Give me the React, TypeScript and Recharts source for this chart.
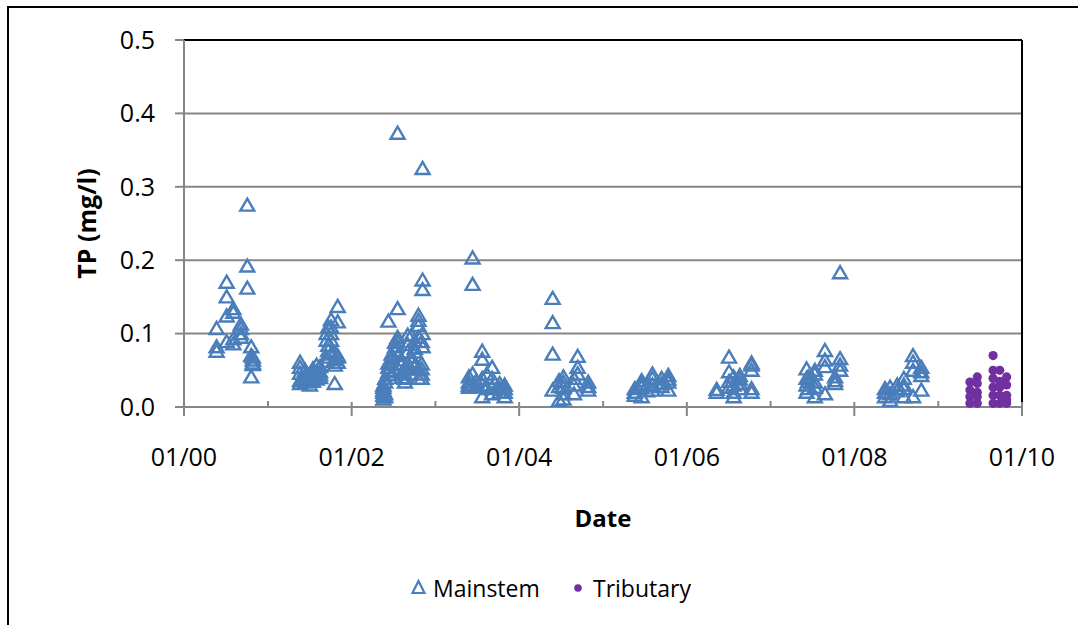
import React from "react";
import { ScatterChart, Scatter, XAxis, YAxis, CartesianGrid, ReferenceLine } from "recharts";

const AXIS = "#868686";
const BLUE = "#4a7ebb";
const PURPLE = "#7030a0";
const FONT = "'Open Sans', sans-serif";

type Sample = [string, number[]];

// sampling date -> TP values (mg/l)
const mainstem2000: Sample[] = [
  ["2000-05-22", [0.107, 0.082, 0.076]],
  ["2000-07-05", [0.17, 0.15, 0.124, 0.089]],
  ["2000-08-03", [0.134, 0.129, 0.093, 0.086]],
  ["2000-09-05", [0.113, 0.107, 0.1, 0.095]],
  ["2000-10-03", [0.275, 0.192, 0.162]],
  ["2000-10-20", [0.082, 0.07, 0.041]],
  ["2000-10-27", [0.068, 0.064, 0.06, 0.058]],
];

const mainstem2001: Sample[] = [
  ["2001-05-21", [0.061, 0.054, 0.046, 0.036, 0.032]],
  ["2001-06-12", [0.05, 0.042, 0.038, 0.034]],
  ["2001-07-03", [0.045, 0.04, 0.036, 0.03]],
  ["2001-07-16", [0.052, 0.046, 0.04, 0.035]],
  ["2001-08-01", [0.057, 0.048, 0.041, 0.038]],
  ["2001-08-16", [0.055, 0.048, 0.044, 0.04]],
  ["2001-09-14", [0.1, 0.091, 0.068, 0.062]],
  ["2001-09-21", [0.109, 0.084, 0.077]],
  ["2001-10-03", [0.119, 0.109, 0.1, 0.091, 0.072]],
  ["2001-10-19", [0.074, 0.065, 0.057, 0.032]],
  ["2001-11-01", [0.137, 0.116, 0.07, 0.068, 0.061]],
];

const mainstem2002: Sample[] = [
  ["2002-05-19", [0.03, 0.027, 0.023, 0.02, 0.016, 0.011]],
  ["2002-05-27", [0.039, 0.034, 0.018, 0.014]],
  ["2002-06-10", [0.117, 0.06, 0.054, 0.048]],
  ["2002-06-24", [0.072, 0.066, 0.058, 0.044]],
  ["2002-07-09", [0.088, 0.082, 0.077, 0.05]],
  ["2002-07-20", [0.373, 0.134, 0.095, 0.089, 0.07]],
  ["2002-08-07", [0.064, 0.058, 0.046, 0.04]],
  ["2002-08-21", [0.052, 0.045, 0.039, 0.034]],
  ["2002-09-02", [0.098, 0.085, 0.075, 0.06, 0.052]],
  ["2002-09-19", [0.098, 0.068, 0.061]],
  ["2002-10-03", [0.09, 0.08, 0.075, 0.056]],
  ["2002-10-19", [0.125, 0.118, 0.111, 0.095, 0.052, 0.039]],
  ["2002-11-02", [0.089, 0.059, 0.052, 0.045, 0.039]],
  ["2002-11-06", [0.325, 0.173, 0.16, 0.1, 0.082]],
];

const mainstem2003: Sample[] = [
  ["2003-05-27", [0.041, 0.034, 0.03, 0.027]],
  ["2003-06-12", [0.203, 0.167, 0.045, 0.03]],
  ["2003-06-27", [0.035, 0.028]],
  ["2003-07-24", [0.076, 0.065, 0.039, 0.03, 0.014]],
  ["2003-08-13", [0.045, 0.025]],
  ["2003-09-05", [0.054, 0.039, 0.027, 0.018]],
  ["2003-10-08", [0.032, 0.025, 0.02]],
  ["2003-10-30", [0.03, 0.025, 0.02, 0.014]],
];

const mainstem2004: Sample[] = [
  ["2004-05-26", [0.148, 0.115, 0.072, 0.023]],
  ["2004-06-23", [0.036, 0.028, 0.009]],
  ["2004-07-12", [0.041, 0.034, 0.027, 0.018, 0.011]],
  ["2004-08-27", [0.039, 0.03, 0.018]],
  ["2004-09-12", [0.069, 0.054, 0.045]],
  ["2004-10-28", [0.034, 0.028, 0.023]],
];

const mainstem2005: Sample[] = [
  ["2005-05-19", [0.025, 0.02, 0.016]],
  ["2005-06-18", [0.036, 0.032, 0.027, 0.014]],
  ["2005-07-11", [0.03, 0.022]],
  ["2005-08-04", [0.045, 0.039, 0.03, 0.023]],
  ["2005-09-13", [0.039, 0.032, 0.028]],
  ["2005-10-12", [0.043, 0.038, 0.034, 0.023]],
];

const mainstem2006: Sample[] = [
  ["2006-05-11", [0.024, 0.02]],
  ["2006-07-04", [0.068, 0.048, 0.035, 0.027]],
  ["2006-07-24", [0.041, 0.03, 0.02, 0.014]],
  ["2006-08-20", [0.043, 0.038, 0.032, 0.025]],
  ["2006-10-10", [0.06, 0.057, 0.05, 0.025, 0.02]],
];

const mainstem2007: Sample[] = [
  ["2007-06-07", [0.052, 0.039, 0.03, 0.02]],
  ["2007-06-14", [0.041, 0.035, 0.025]],
  ["2007-07-13", [0.05, 0.045, 0.034, 0.027, 0.014]],
  ["2007-08-26", [0.077, 0.064, 0.055, 0.018]],
  ["2007-10-09", [0.041, 0.036, 0.032]],
  ["2007-10-31", [0.183, 0.066, 0.057, 0.05]],
];

const mainstem2008: Sample[] = [
  ["2008-05-14", [0.025, 0.02, 0.014]],
  ["2008-06-05", [0.027, 0.018, 0.009]],
  ["2008-07-06", [0.03, 0.022]],
  ["2008-08-04", [0.039, 0.03, 0.025, 0.014]],
  ["2008-09-13", [0.07, 0.061, 0.05, 0.014]],
  ["2008-10-19", [0.054, 0.048, 0.043, 0.023]],
];

const tributary2009: Sample[] = [
  ["2009-05-19", [0.034, 0.023, 0.014, 0.005]],
  ["2009-06-20", [0.041, 0.032, 0.02, 0.014, 0.005]],
  ["2009-08-28", [0.07, 0.05, 0.039, 0.027, 0.016, 0.005]],
  ["2009-09-26", [0.05, 0.035, 0.027, 0.016, 0.005]],
  ["2009-10-26", [0.041, 0.03, 0.016, 0.01, 0.005]],
];

const tickYears = [2000, 2001, 2002, 2003, 2004, 2005, 2006, 2007, 2008, 2009, 2010];
const yTicks = [0, 0.1, 0.2, 0.3, 0.4, 0.5];

const toPoints = (groups: Sample[][]) =>
  groups.flatMap(g => g.flatMap(([d, vals]) => vals.map(v => ({ x: Date.parse(d), y: v }))));

const mainstem = toPoints([
  mainstem2000, mainstem2001, mainstem2002, mainstem2003, mainstem2004,
  mainstem2005, mainstem2006, mainstem2007, mainstem2008,
]);
const tributary = toPoints([tributary2009]);

const xTicks = tickYears.map(y => Date.UTC(y, 0, 1));
const xDomain = [xTicks[0], xTicks[xTicks.length - 1]];

function DateTick(props: any) {
  const { x, y, payload } = props;
  const yr = new Date(payload.value).getUTCFullYear();
  const major = yr % 2 === 0;
  return (
    <g>
      {major ? (
        <line x1={x} x2={x} y1={y - 5} y2={y + 9} stroke={AXIS} strokeWidth={2} />
      ) : (
        <line x1={x} x2={x} y1={y - 6} y2={y} stroke={AXIS} strokeWidth={2} />
      )}
      {major && (
        <text x={x} y={y + 59} textAnchor="middle" fontSize={25} fill="#000">
          {`01/${String(yr % 100).padStart(2, "0")}`}
        </text>
      )}
    </g>
  );
}

function Triangle(props: any) {
  const { cx, cy } = props;
  if (cx == null || cy == null) return null;
  return (
    <path
      d={`M${cx},${cy - 6.5}L${cx + 7},${cy + 5.5}L${cx - 7},${cy + 5.5}Z`}
      fill="none"
      stroke={BLUE}
      strokeWidth={2.4}
    />
  );
}

function Dot(props: any) {
  const { cx, cy } = props;
  if (cx == null || cy == null) return null;
  return <circle cx={cx} cy={cy} r={4.6} fill={PURPLE} />;
}

const renderYLabel = (p: any) => {
  const vb = p.viewBox;
  const cy = vb.y + vb.height / 2;
  return (
    <text x={96} y={cy} transform={`rotate(-90 96 ${cy})`} textAnchor="middle"
      fontSize={25} fontWeight="bold" fill="#000">
      TP (mg/l)
    </text>
  );
};

const renderXLabel = (p: any) => {
  const vb = p.viewBox;
  return (
    <text x={vb.x + vb.width / 2} y={vb.y + 120} textAnchor="middle"
      fontSize={24} fontWeight="bold" fill="#000">
      Date
    </text>
  );
};

export default function App() {
  return (
    <div style={{ position: "fixed", left: 0, top: 0, width: 1078, height: 625, overflow: "hidden", background: "#fff", fontFamily: FONT }}>
      <div style={{ position: "absolute", left: 7, top: 6, width: 1200, height: 800, borderLeft: "2px solid #000", borderTop: "2px solid #000" }} />
      <div style={{ position: "absolute", left: 0, top: 0 }}>
        <ScatterChart width={1078} height={625} margin={{ top: 40, right: 56, bottom: 118, left: 0 }}>
          <CartesianGrid vertical={false} stroke={AXIS} strokeWidth={2} />
          <XAxis
            type="number"
            dataKey="x"
            domain={xDomain}
            ticks={xTicks}
            interval={0}
            height={100}
            axisLine={{ stroke: AXIS, strokeWidth: 2 }}
            tickLine={false}
            tickSize={0}
            tickMargin={0}
            tick={<DateTick />}
            label={renderXLabel}
          />
          <YAxis
            type="number"
            dataKey="y"
            domain={[0, 0.5]}
            ticks={yTicks}
            interval={0}
            width={184}
            axisLine={{ stroke: AXIS, strokeWidth: 2 }}
            tickLine={{ stroke: AXIS, strokeWidth: 2 }}
            tickSize={9}
            tickMargin={20}
            tick={{ fill: "#000", fontSize: 25 }}
            tickFormatter={(v: number) => v.toFixed(1)}
            label={renderYLabel}
          />
          <ReferenceLine y={0.5} stroke="#000" strokeWidth={2} />
          <ReferenceLine x={xDomain[1]} stroke="#000" strokeWidth={2} />
          <Scatter name="Mainstem" data={mainstem} shape={Triangle} isAnimationActive={false} />
          <Scatter name="Tributary" data={tributary} shape={Dot} isAnimationActive={false} />
        </ScatterChart>
      </div>
      <svg style={{ position: "absolute", left: 0, top: 560 }} width={1078} height={60}>
        <path d="M418.5,21L424.5,33L412.5,33Z" fill="none" stroke={BLUE} strokeWidth={2.2} />
        <text x={433} y={37} fontSize={23} fill="#000">Mainstem</text>
        <circle cx={578} cy={28} r={3.8} fill={PURPLE} />
        <text x={593} y={37} fontSize={23} fill="#000">Tributary</text>
      </svg>
    </div>
  );
}
